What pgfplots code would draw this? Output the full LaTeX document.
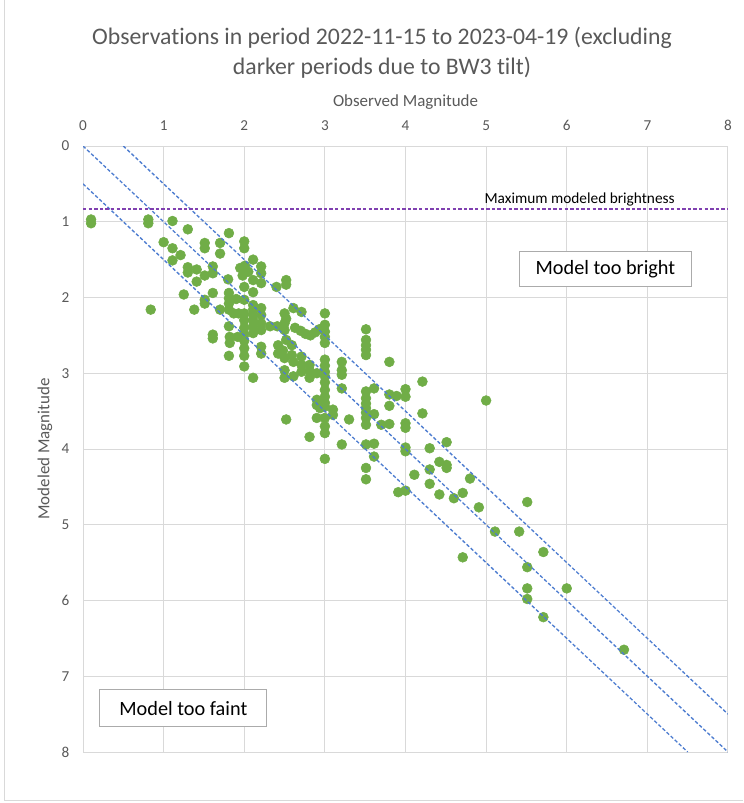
\documentclass[border=0pt]{standalone}
\usepackage{fontspec}
\setmainfont{Carlito}[RawFeature={-liga;-dlig;-calt}]
\usepackage{pgfplots}
\usepackage{pgfplotstable}
\pgfplotsset{compat=1.18}

\definecolor{gridgray}{HTML}{D9D9D9}
\definecolor{framegray}{HTML}{D9D9D9}
\definecolor{txtgray}{HTML}{595959}
\definecolor{dotgreen}{HTML}{70AD47}
\definecolor{lineblue}{HTML}{4E7DD0}
\definecolor{maxpurple}{HTML}{8040B0}
\definecolor{boxgray}{HTML}{ABABAB}

% observed magnitude vs. modeled magnitude
\pgfplotstableread{
obs  mod
0.10 0.97
0.10 1.02
0.81 0.97
0.81 1.02
0.84 2.16
1.00 1.27
1.11 0.99
1.11 1.35
1.11 1.51
1.21 1.44
1.30 1.10
1.25 1.96
1.30 1.60
1.30 1.67
1.41 1.63
1.41 1.79
1.38 2.16
1.51 1.28
1.51 1.35
1.51 1.71
1.51 2.03
1.51 2.08
1.61 1.59
1.61 1.68
1.61 1.94
1.61 2.49
1.61 2.54
1.70 1.28
1.70 1.42
1.70 2.16
1.81 1.15
1.80 1.76
1.81 1.94
1.81 2.01
1.81 2.08
1.81 2.16
1.81 2.38
1.82 2.52
1.82 2.60
1.81 2.77
1.90 2.02
1.87 2.21
1.93 2.21
1.92 2.52
2.00 1.26
2.00 1.35
1.95 1.61
2.01 1.58
2.05 1.66
1.98 1.71
2.00 1.86
2.00 2.03
2.00 2.21
2.00 2.30
2.00 2.40
2.00 2.49
2.00 2.57
2.00 2.67
2.00 2.77
2.00 2.91
2.11 1.50
2.11 1.77
2.11 1.93
2.11 2.10
2.11 2.16
2.11 2.23
2.11 2.30
2.11 2.38
2.11 2.47
2.11 3.06
2.21 1.59
2.21 1.68
2.21 1.81
2.21 2.14
2.21 2.23
2.21 2.34
2.21 2.43
2.21 2.65
2.21 2.74
2.32 2.38
2.41 2.38
2.40 1.86
2.52 1.77
2.52 1.83
2.50 2.21
2.52 2.28
2.50 2.34
2.50 2.43
2.52 2.56
2.61 2.14
2.71 2.19
2.42 2.63
2.42 2.74
2.48 2.70
2.50 2.80
2.59 2.63
2.59 2.76
2.61 2.85
2.50 2.96
2.50 3.06
2.61 3.04
2.52 3.61
2.63 2.40
2.70 2.44
2.76 2.48
2.82 2.50
2.88 2.46
2.93 2.42
2.71 2.78
2.71 2.89
2.71 2.98
2.81 2.89
2.81 2.96
2.81 3.06
2.90 3.00
2.90 3.35
2.90 3.42
2.94 3.46
2.90 3.59
2.81 3.84
3.00 2.21
3.00 2.36
3.00 2.45
3.00 2.52
3.00 2.60
3.00 2.82
3.00 2.90
3.00 2.98
3.00 3.04
3.00 3.12
3.00 3.22
3.00 3.31
3.00 3.39
3.00 3.44
3.00 3.59
3.00 3.70
3.00 3.79
3.00 4.13
3.10 3.48
3.10 3.55
3.21 2.85
3.21 2.96
3.21 3.02
3.21 3.20
3.21 3.94
3.30 3.61
3.51 2.42
3.51 2.56
3.51 2.63
3.51 2.69
3.51 2.76
3.51 3.24
3.51 3.33
3.51 3.40
3.51 3.46
3.51 3.52
3.51 3.59
3.51 3.68
3.51 3.94
3.51 4.25
3.51 4.40
3.61 3.20
3.61 3.54
3.61 3.93
3.61 4.10
3.70 3.68
3.80 2.85
3.80 3.28
3.80 3.43
3.80 3.67
3.89 3.30
3.91 4.57
4.00 3.21
4.00 3.31
4.00 3.66
4.00 3.72
4.00 3.98
4.00 4.03
4.00 4.55
4.21 3.11
4.21 3.53
4.30 3.99
4.30 4.27
4.30 4.46
4.11 4.34
4.42 4.17
4.51 3.91
4.51 4.21
4.51 4.25
4.42 4.60
4.60 4.65
4.71 4.58
4.80 4.39
4.91 4.77
5.00 3.36
5.51 4.70
5.11 5.09
5.41 5.09
5.71 5.36
4.71 5.43
5.51 5.56
5.51 5.84
5.51 5.98
6.00 5.84
5.71 6.22
6.71 6.65
}\obsdata

\begin{document}
\begin{tikzpicture}
\path[use as bounding box] (-62.25pt,-38.25pt) rectangle (495pt,564pt);
% chart area frame
\draw[framegray, line width=0.75pt] (-58.5pt,564pt) -- (-58.5pt,-36pt) -- (495pt,-36pt);

\begin{axis}[
  at={(0,0)}, anchor=south west,
  scale only axis, width=483.75pt, height=454.5pt,
  xmin=0, xmax=8, ymin=0, ymax=8,
  y dir=reverse,
  xtick={0,...,8}, ytick={0,...,8},
  xticklabel pos=upper,
  grid=major,
  major grid style={gridgray, line width=0.75pt},
  axis line style={gridgray, line width=0.75pt},
  major tick length=0pt,
  tick label style={font=\fontsize{11.4}{13}\selectfont, text=txtgray},
  xticklabel style={yshift=8.3pt},
  yticklabel style={xshift=-6.8pt},
  /pgf/number format/assume math mode=true,
  clip mode=individual,
]
\addplot[only marks, mark=*, mark size=3.7pt,
  mark options={draw=dotgreen, fill=dotgreen}] table[x=obs, y=mod] {\obsdata};

\addplot[lineblue, line width=1pt, dash pattern=on 2.6pt off 1.6pt]
  coordinates {(0,0) (8,8)};
\addplot[lineblue, line width=1pt, dash pattern=on 2.6pt off 1.6pt]
  coordinates {(0,0.5) (7.5,8)};
\addplot[lineblue, line width=1pt, dash pattern=on 2.6pt off 1.6pt]
  coordinates {(0.5,0) (8,7.5)};
\addplot[maxpurple, line width=1pt, dash pattern=on 2.6pt off 1.6pt]
  coordinates {(0,0.83) (8,0.83)};

\node[font=\fontsize{11.5}{13}\selectfont] at (axis cs:6.16,0.70)
  {Maximum modeled brightness};
\node[draw=boxgray, line width=0.75pt, fill=white, minimum width=129pt,
  minimum height=26.25pt, inner sep=0pt,
  font=\fontsize{15.2}{17}\selectfont] at (axis cs:6.48,1.63) {Model too bright};
\node[draw=boxgray, line width=0.75pt, fill=white, minimum width=125.25pt,
  minimum height=27.75pt, inner sep=0pt,
  font=\fontsize{15.2}{17}\selectfont] at (axis cs:1.245,7.42) {Model too faint};
\end{axis}

\node[align=center, text=txtgray, font=\fontsize{17.8}{22.5}\selectfont]
  at (224.25pt,524.25pt)
  {Observat\kern0pt ions in period 2022-11-15 to 2023-04-19 (excluding\\darker periods due to BW3 tilt)};
\node[text=txtgray, font=\fontsize{12.7}{15}\selectfont] at (241.9pt,487.5pt)
  {Observed Magnitude};
\node[text=txtgray, rotate=90, font=\fontsize{12.7}{15}\selectfont] at (-28.5pt,227.25pt)
  {Modeled Magnitude};
\end{tikzpicture}
\end{document}
